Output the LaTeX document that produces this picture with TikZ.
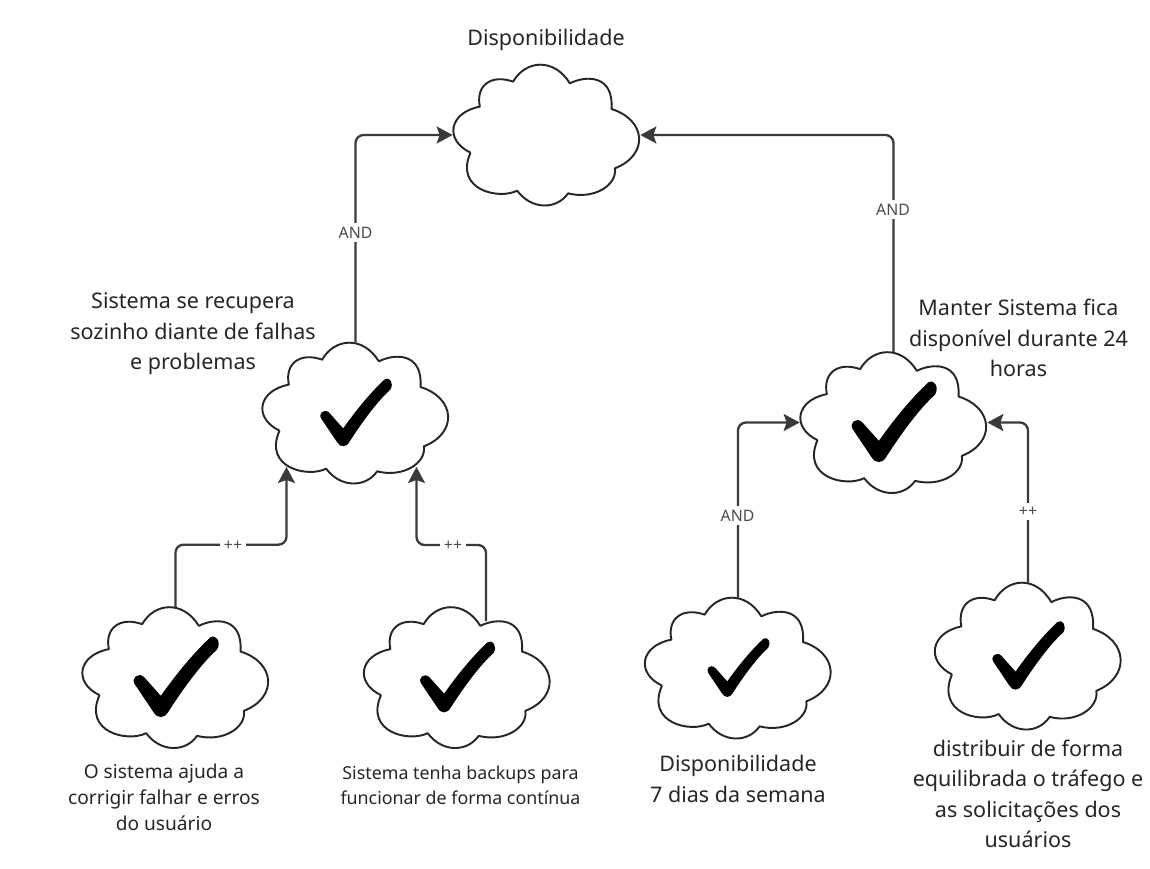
\documentclass[tikz,border=0pt]{standalone}
\usepackage{fontspec}
\setmainfont{Noto Sans}
\usetikzlibrary{arrows.meta}

\definecolor{linkgray}{HTML}{3A3A3A}
\tikzstyle{puffbox}=[rectangle,inner sep=0pt,minimum width=3.74cm]
\tikzstyle{puffline}=[draw=black!85,line width=1.1pt,line join=round]
\tikzstyle{link}=[draw=linkgray,line width=1.3pt,rounded corners=.16cm,-{Stealth[length=.32cm,width=.34cm,inset=.06cm]}]
\tikzstyle{rel}=[fill=white,text=black!70,inner sep=.08cm,font=\fontsize{9}{11}\selectfont]
\tikzstyle{caption}=[align=center,text=black!85,font=\fontsize{12.25}{17.3}\selectfont]
\tikzstyle{smallcaption}=[align=center,text=black!85,font=\fontsize{10.9}{14.8}\selectfont]

% cloud outline: node name, position, y stretch
\newcommand{\puff}[3][1]{%
	\node[puffbox,minimum height=#1*2.8cm] (#2) at (#3) {};
	\draw[puffline,shift={(#2.center)},yscale=#1] (-1.52,-.353)
		.. controls (-2.05,-.1) and (-1.95,.45) .. (-1.333,.567)
		.. controls (-1.42,1) and (-1.1,1.22) .. (-.667,1.067)
		.. controls (-.42,1.5) and (.15,1.55) .. (.467,1.033)
		.. controls (.8,1.2) and (1.35,1.2) .. (1.3,.52)
		.. controls (2,.3) and (2.05,-.4) .. (1.367,-.667)
		.. controls (1.42,-1) and (.95,-1.3) .. (.433,-1.167)
		.. controls (.2,-1.5) and (-.3,-1.5) .. (-.587,-1.113)
		.. controls (-.95,-1.3) and (-1.85,-1.1) .. (-1.52,-.353);
}
% check mark inside a cloud
\newcommand{\tick}[2]{%
	\fill[black,shift={(#1.center)},scale=#2] (-.293,-.367)
		.. controls (.027,.087) and (.36,.487) .. (.693,.8)
		.. controls (.807,.88) and (.927,.707) .. (.827,.553)
		.. controls (.527,.287) and (.16,-.213) .. (-.14,-.68)
		.. controls (-.22,-.827) and (-.36,-.827) .. (-.44,-.693)
		-- (-.807,-.147)
		.. controls (-.907,-.013) and (-.74,.12) .. (-.627,.007)
		-- cycle;
}

\begin{document}
\begin{tikzpicture}[>=latex]
	\useasboundingbox (0,0) rectangle (23,-17.38);

	% Clouds
	\puff{avail}{10.93,-2.70}
	\puff{recover}{7.11,-8.26}
	\puff{uptime}{17.87,-8.45}
	\puff{fixerr}{3.51,-13.55}
	\puff{backup}{9.14,-13.55}
	\puff{week}{14.76,-13.36}
	\puff[1.043]{balance}{20.56,-13.12}

	\tick{recover}{.84}
	\tick{uptime}{1}
	\tick{fixerr}{1}
	\tick{backup}{.88}
	\tick{week}{.73}
	\tick{balance}{.85}

	% Free ends on the cloud outlines
	\coordinate (recoverA) at (5.73,-9.34);
	\coordinate (recoverB) at (8.33,-9.34);
	\coordinate (backupOut) at (9.72,-12.42);

	% Links
	\draw[link] (recover.north) |- (avail.west);
	\draw[link] (uptime.north) |- (avail.east);
	\draw[link] (fixerr.north) -- ++(0,1.25) -| (recoverA);
	\draw[link] (backupOut) -- ++(0,1.52) -| (recoverB);
	\draw[link] (week.north) |- (uptime.west);
	\draw[link] (balance.north) |- (uptime.east);

	\node[rel] (andA) at (7.11,-4.65) {AND};
	\node[rel] (andB) at (17.86,-4.19) {AND};
	\node[rel] (andC) at (14.75,-10.31) {AND};
	\node[rel] (plusA) at (4.66,-10.91) {++};
	\node[rel] (plusB) at (9.06,-10.91) {++};
	\node[rel] (plusC) at (20.56,-10.23) {++};

	% Texts
	\node[caption] (tavail) at (10.92,-.80) {Disponibilidade};
	\node[caption] (trecover) at (3.86,-6.68) {Sistema se recupera\\sozinho diante de falhas\\e problemas};
	\node[caption] (tuptime) at (20.37,-6.76) {Manter Sistema fica\\disponível durante 24\\horas};
	\node[smallcaption] (tfixerr) at (3.28,-15.94) {O sistema ajuda a\\corrigir falhar e erros\\do usuário};
	\node[smallcaption,font=\fontsize{10.15}{14.4}\selectfont] (tbackup) at (9.21,-15.70) {Sistema tenha backups para\\funcionar de forma contínua};
	\node[caption] (tweek) at (14.76,-15.58) {Disponibilidade\\7 dias da semana};
	\node[caption] (tbalance) at (20.56,-15.88) {distribuir de forma\\equilibrada o tráfego e\\as solicitações dos\\usuários};
\end{tikzpicture}
\end{document}
